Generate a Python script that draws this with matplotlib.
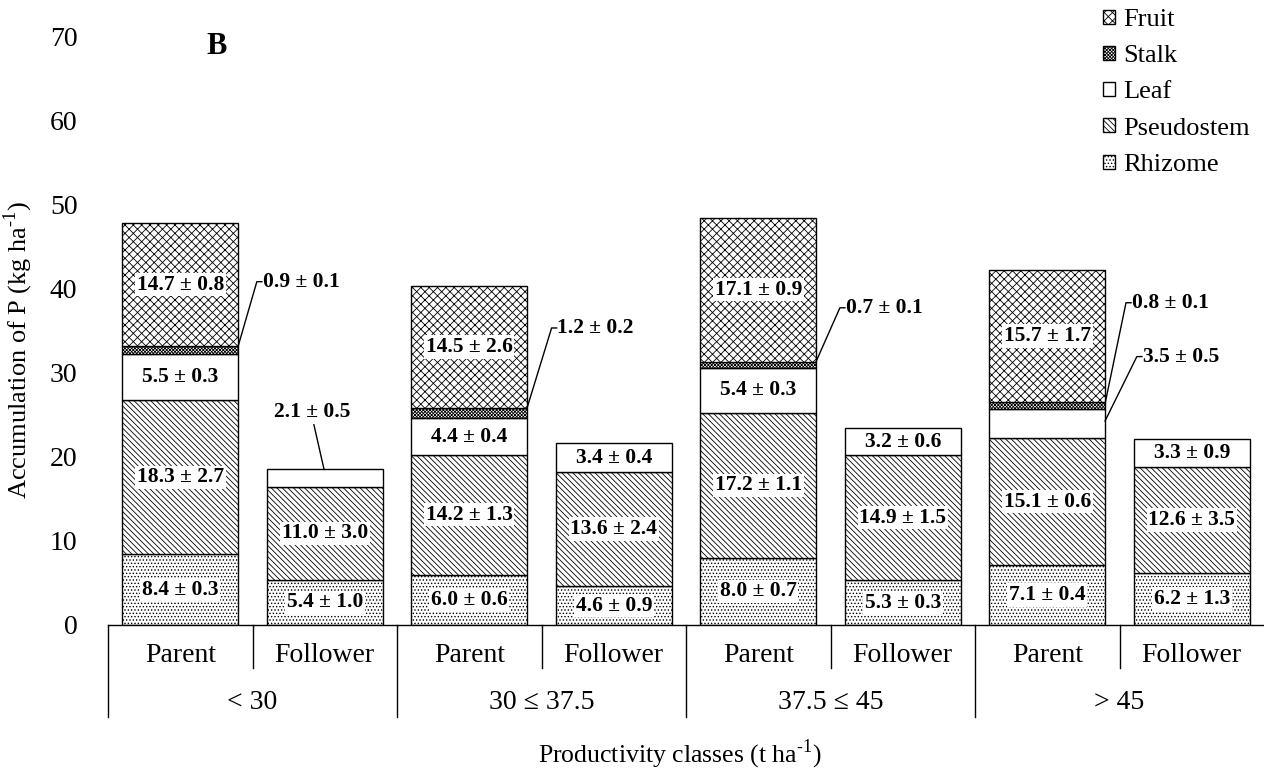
import numpy as np
import matplotlib.pyplot as plt

plt.rcParams['font.family'] = ['Liberation Serif', 'DejaVu Serif']
plt.rcParams['mathtext.fontset'] = 'custom'
plt.rcParams['mathtext.rm'] = 'Liberation Serif'
plt.rcParams['hatch.linewidth'] = 0.6

# P accumulation (kg/ha) per plant part, bars ordered Parent/Follower per class
groups = ['< 30', '30 \u2264 37.5', '37.5 \u2264 45', '> 45']
plants = ['Parent', 'Follower']
rhizome = [8.4, 5.4, 6.0, 4.6, 8.0, 5.3, 7.1, 6.2]
pseudostem = [18.3, 11.0, 14.2, 13.6, 17.2, 14.9, 15.1, 12.6]
leaf = [5.5, 2.1, 4.4, 3.4, 5.4, 3.2, 3.5, 3.3]
stalk = [0.9, 0, 1.2, 0, 0.7, 0, 0.8, 0]
fruit = [14.7, 0, 14.5, 0, 17.1, 0, 15.7, 0]

rhizome_sd = [0.3, 1.0, 0.6, 0.9, 0.7, 0.3, 0.4, 1.3]
pseudostem_sd = [2.7, 3.0, 1.3, 2.4, 1.1, 1.5, 0.6, 3.5]
leaf_sd = [0.3, 0.5, 0.4, 0.4, 0.3, 0.6, 0.5, 0.9]
stalk_sd = [0.1, 0, 0.2, 0, 0.1, 0, 0.1, 0]
fruit_sd = [0.8, 0, 2.6, 0, 0.9, 0, 1.7, 0]

parts = [
    ('Rhizome', rhizome, rhizome_sd, '.....'),
    ('Pseudostem', pseudostem, pseudostem_sd, '\\\\\\\\\\\\'),
    ('Leaf', leaf, leaf_sd, ''),
    ('Stalk', stalk, stalk_sd, 'xxxxxxxxxx'),
    ('Fruit', fruit, fruit_sd, 'xxxx'),
]

fig = plt.figure(figsize=(12.64, 7.71), dpi=100)
ax = fig.add_axes([108 / 1264, 1 - 625 / 771, 1 - 108 / 1264, (625 - 36) / 771])

x = np.arange(len(rhizome))
bottom = np.zeros(len(x))
handles = {}
tops = {}
for name, vals, sds, hatch in parts:
    vals = np.array(vals)
    mask = vals > 0
    b = ax.bar(x[mask], vals[mask], width=0.8, bottom=bottom[mask],
               color='white', edgecolor='black', linewidth=1.0, hatch=hatch,
               label=name)
    handles[name] = b
    tops[name] = bottom + vals
    # labels inside the segments that are tall enough
    for i in x[mask]:
        v = vals[i]
        if v < 2.5 or (name == 'Leaf' and i == 6):
            continue
        ax.text(i, bottom[i] + v / 2, f'{v:.1f} \u00b1 {sds[i]:.1f}',
                ha='center', va='center', fontsize=15.5, fontweight='bold',
                bbox=dict(boxstyle='square,pad=0.08', fc='white', ec='none'))
    bottom = bottom + vals

# labels with leader lines for the thin segments
def leader(x0, y0, xe, ye, text):
    ax.plot([x0, xe, xe + 0.035], [y0, ye, ye], color='black', lw=1.0,
            clip_on=False)
    ax.text(xe + 0.04, ye, text, ha='left', va='center', fontsize=15.5,
            fontweight='bold')

stalk_top = tops['Stalk']
leader(0.4, stalk_top[0], 0.53, 40.8, f'{stalk[0]:.1f} \u00b1 {stalk_sd[0]:.1f}')
leader(2.4, stalk_top[2], 2.57, 35.3, f'{stalk[2]:.1f} \u00b1 {stalk_sd[2]:.1f}')
leader(4.4, stalk_top[4], 4.565, 37.7, f'{stalk[4]:.1f} \u00b1 {stalk_sd[4]:.1f}')
leader(6.4, stalk_top[6] - 0.2, 6.545, 38.3, f'{stalk[6]:.1f} \u00b1 {stalk_sd[6]:.1f}')
leaf_mid = tops['Pseudostem'][6] + leaf[6] / 2
leader(6.4, leaf_mid + 0.3, 6.62, 31.9, f'{leaf[6]:.1f} \u00b1 {leaf_sd[6]:.1f}')

# follower leaf in the first class
ax.plot([0.995, 0.925], [tops['Leaf'][1], 23.8], color='black', lw=1.0)
ax.text(0.915, 25.3, f'{leaf[1]:.1f} \u00b1 {leaf_sd[1]:.1f}', ha='center',
        va='center', fontsize=15.5, fontweight='bold')

ax.set_xlim(-0.5, 7.5)
ax.set_ylim(0, 70)
ax.set_yticks(np.arange(0, 71, 10))
ax.tick_params(axis='y', length=0, pad=22, labelsize=20)
ax.set_xticks([])
for s in ['top', 'right', 'left']:
    ax.spines[s].set_visible(False)
ax.spines['bottom'].set_linewidth(1.0)

# two-level category axis
tr = ax.get_xaxis_transform()
for i in x:
    ax.text(i, -0.051, plants[i % 2], transform=tr, ha='center', va='center',
            fontsize=20)
for g, name in enumerate(groups):
    ax.text(2 * g + 0.5, -0.131, name, transform=tr, ha='center', va='center',
            fontsize=20)
for xs in [-0.5, 1.5, 3.5, 5.5]:
    ax.plot([xs, xs], [0, -0.156], transform=tr, color='black', lw=1.0,
            clip_on=False)
for xs in [0.5, 2.5, 4.5, 6.5]:
    ax.plot([xs, xs], [0, -0.073], transform=tr, color='black', lw=1.0,
            clip_on=False)

fig.text(680 / 1264, 1 - 754 / 771, 'Productivity classes (t ha$^{\\text{-}1}$)',
         ha='center', va='center', fontsize=18.5)
fig.text(18 / 1264, 1 - 350 / 771, 'Accumulation of P (kg ha$^{\\text{-}1}$)',
         ha='center', va='center', rotation=90, fontsize=19)
fig.text(217 / 1264, 1 - 47 / 771, 'B', ha='center', va='center',
         fontsize=22, fontweight='bold')

order = ['Fruit', 'Stalk', 'Leaf', 'Pseudostem', 'Rhizome']
ax.legend([handles[n] for n in order], order, loc='upper left',
          bbox_to_anchor=(1103 / 1264, 1 - 9 / 771), bbox_transform=fig.transFigure,
          frameon=False, fontsize=19, handlelength=0.45, handleheight=0.45,
          handletextpad=0.3, labelspacing=0.54, borderpad=0, borderaxespad=0)

fig.savefig('out.png', dpi=100)
